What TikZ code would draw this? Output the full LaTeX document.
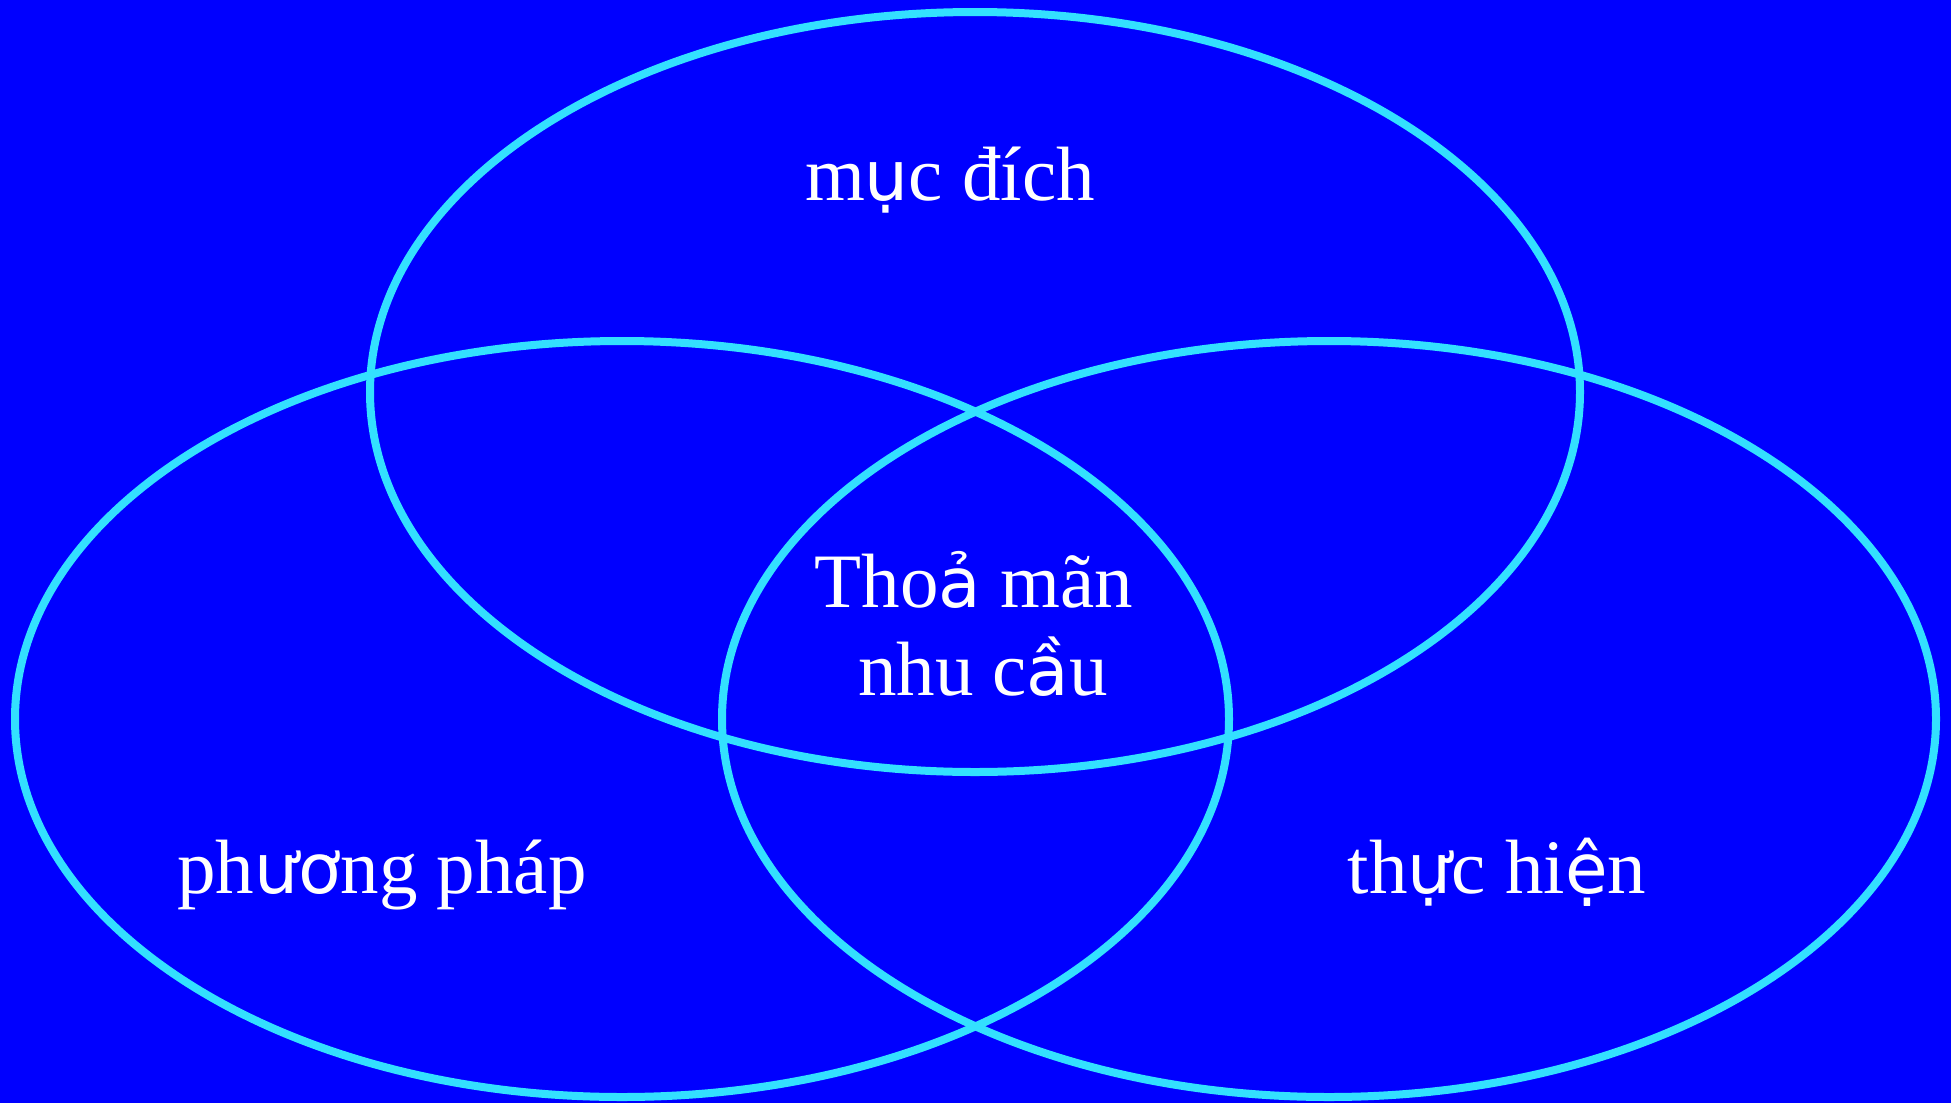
\documentclass[tikz,border=0pt]{standalone}
\usepackage{fontspec}
\setmainfont{Liberation Serif}
\newfontfamily\vnfb[Scale=0.9]{DejaVu Sans}
\usepackage{xcolor}
\definecolor{bgblue}{RGB}{0,0,255}
\definecolor{ringcyan}{RGB}{51,224,255}
\newcommand{\fb}[1]{{\vnfb #1}}

\begin{document}
\begin{tikzpicture}[x=1pt,y=-1pt,
  ring/.style={draw=ringcyan,line width=8pt},
  word/.style={text=white,font=\fontsize{77}{88}\selectfont,align=center,inner sep=0pt,anchor=base}]
\fill[bgblue] (0,0) rectangle (1951,1103);
\useasboundingbox (0,0) rectangle (1951,1103);
% three rings
\draw[ring] (975,392) ellipse [x radius=605pt,y radius=380pt];
\draw[ring] (622,719) ellipse [x radius=607pt,y radius=378pt];
\draw[ring] (1329,719) ellipse [x radius=607pt,y radius=378pt];
% labels
\node[word] (goal) at (950,200) {m\fb{ụ}c đích};
\node[word] (need) at (974,695) {Tho\fb{ả} mãn\\ \hspace*{18pt}nhu c\fb{ầ}u};
\node[word] (method) at (382,893) {ph\fb{ươ}ng pháp};
\node[word] (doing) at (1497,893) {th\fb{ự}c hi\fb{ệ}n};
\end{tikzpicture}
\end{document}
